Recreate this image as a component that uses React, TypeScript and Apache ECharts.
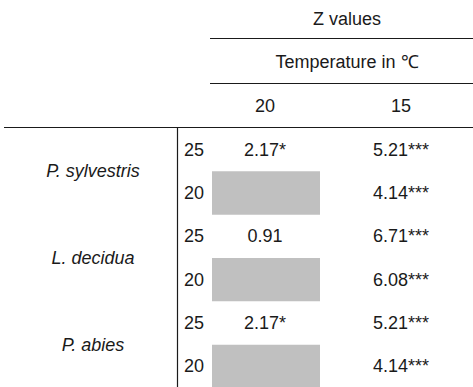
import React, { useEffect, useRef } from "react";
import * as echarts from "echarts";

// ---- data ----
const species = ["P. sylvestris", "L. decidua", "P. abies"];
const rowTemps = ["25", "20"];
const colTemps = ["20", "15"];
const zAt20: (string | null)[] = ["2.17*", null, "0.91", null, "2.17*", null];
const zAt15: string[] = ["5.21***", "4.14***", "6.71***", "6.08***", "5.21***", "4.14***"];
const headerTitle = "Z values";
const headerSub = "Temperature in \u2103";

// ---- layout ----
const W = 473;
const H = 387;
const BODY_TOP = 127;
const X_SPECIES = 93;
const X_TEMP_LEFT = 184;
const X_VLINE = 177;
const X_COL20 = 265;
const X_COL15 = 401;
const X_HEAD = 347;
const BOX_L = 212;
const BOX_R = 320;
const FONT = "'Liberation Sans', Arial, Helvetica, sans-serif";
const FS = 18;
const INK = "#1a1a1a";

const rowIds = species.flatMap((_, s) => rowTemps.map((_, t) => String(s * rowTemps.length + t)));

export default function App() {
  const ref = useRef<HTMLDivElement>(null);
  useEffect(() => {
    if (!ref.current) return;
    const chart = echarts.init(ref.current, undefined, { renderer: "svg" });
    const txt = (text: string, x: number, y: number, align: string, italic = false) => ({
      type: "text",
      x,
      y,
      style: {
        text,
        align,
        verticalAlign: "middle",
        fontSize: FS,
        fontFamily: FONT,
        fontStyle: italic ? "italic" : "normal",
        fill: INK,
      },
    });
    const option: any = {
      animation: false,
      backgroundColor: "#fff",
      grid: { left: 0, right: 0, top: BODY_TOP, bottom: 0 },
      xAxis: { type: "value", min: 0, max: W, show: false },
      yAxis: { type: "category", data: rowIds, inverse: true, show: false },
      graphic: [
        txt(headerTitle, X_HEAD, 19, "center"),
        { type: "line", shape: { x1: 210, y1: 38.5, x2: W, y2: 38.5 }, style: { stroke: INK, lineWidth: 1.2 } },
        txt(headerSub, X_HEAD, 62, "center"),
        { type: "line", shape: { x1: 210, y1: 83.5, x2: W, y2: 83.5 }, style: { stroke: INK, lineWidth: 1.2 } },
        txt(colTemps[0], X_COL20, 106, "center"),
        txt(colTemps[1], X_COL15, 106, "center"),
        { type: "line", shape: { x1: 4, y1: BODY_TOP + 0.5, x2: W, y2: BODY_TOP + 0.5 }, style: { stroke: INK, lineWidth: 1.2 } },
        { type: "line", shape: { x1: X_VLINE + 0.5, y1: BODY_TOP, x2: X_VLINE + 0.5, y2: H }, style: { stroke: INK, lineWidth: 1.2 } },
      ],
      series: [
        {
          type: "custom",
          coordinateSystem: "cartesian2d",
          data: rowIds.map((_, i) => [0, i]),
          renderItem: (params: any, api: any) => {
            const i = params.dataIndex;
            const yC = api.coord([0, i])[1];
            const h = api.size([0, 1])[1];
            const children: any[] = [];
            children.push(txt(rowTemps[i % rowTemps.length], api.coord([X_TEMP_LEFT, i])[0], yC + 1, "left"));
            const v20 = zAt20[i];
            if (v20 == null) {
              const xl = api.coord([BOX_L, i])[0];
              const xr = api.coord([BOX_R, i])[0];
              children.push({
                type: "rect",
                shape: { x: xl, y: yC - h / 2 + 1, width: xr - xl, height: h },
                style: { fill: "#c0c0c0" },
              });
            } else {
              children.push(txt(v20, api.coord([X_COL20, i])[0], yC + 1, "center"));
            }
            children.push(txt(zAt15[i], api.coord([X_COL15, i])[0], yC + 1, "center"));
            return { type: "group", children };
          },
        },
        {
          type: "custom",
          coordinateSystem: "cartesian2d",
          data: species.map((_, s) => [0, s * rowTemps.length]),
          renderItem: (params: any, api: any) => {
            const s = params.dataIndex;
            const r = s * rowTemps.length;
            const yC = api.coord([0, r])[1];
            const h = api.size([0, 1])[1];
            return txt(species[s], api.coord([X_SPECIES, r])[0], yC + h / 2 + 1, "center", true);
          },
        },
      ],
    };
    chart.setOption(option);
    return () => chart.dispose();
  }, []);
  return (
    <div
      ref={ref}
      style={{ position: "fixed", left: 0, top: 0, width: W, height: H, background: "#fff" }}
    />
  );
}
